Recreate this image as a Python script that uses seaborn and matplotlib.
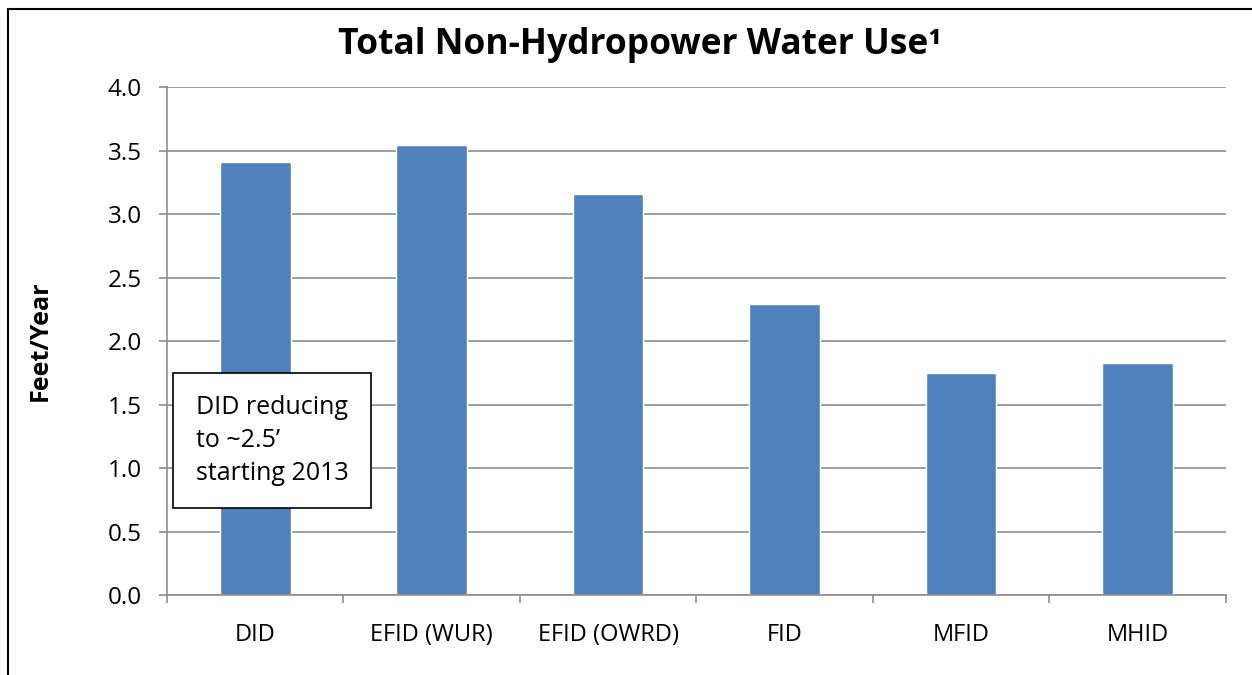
""" Total non-hydropower water use bar chart """

import matplotlib.pyplot as plt
from matplotlib.lines import Line2D
import numpy as np
import pandas as pd
import seaborn as sns

districts = ['DID', 'EFID (WUR)', 'EFID (OWRD)', 'FID', 'MFID', 'MHID']
feet_per_year = [3.41, 3.54, 3.16, 2.29, 1.745, 1.83]
y_ticks = [0.0, 0.5, 1.0, 1.5, 2.0, 2.5, 3.0, 3.5, 4.0]

BAR_COLOR = '#4F81BD'
GRID_COLOR = '#8C8C8C'

sns.set_theme(style='white', rc={'text.color': 'black',
                                 'xtick.color': 'black',
                                 'ytick.color': 'black',
                                 'axes.labelcolor': 'black'})
plt.rcParams['font.family'] = ['Open Sans', 'DejaVu Sans']

df = pd.DataFrame({'district': districts, 'value': feet_per_year})

fig = plt.figure(figsize=(12.52, 6.75), dpi=100)
ax = fig.add_axes([0.1334, 0.1185, 0.8456, 0.7525])

sns.barplot(data=df, x='district', y='value', color=BAR_COLOR,
            saturation=1, width=0.4, ax=ax)

ax.set_ylim(0, 4.0)
ax.set_xlim(-0.5, len(districts) - 0.5)
ax.set_yticks(y_ticks)
ax.set_yticklabels([f'{v:.1f}' for v in y_ticks])
ax.yaxis.grid(True, color=GRID_COLOR, linewidth=1.2)
ax.set_axisbelow(True)

for side in ['top', 'right']:
    ax.spines[side].set_visible(False)
for side in ['left', 'bottom']:
    ax.spines[side].set_color(GRID_COLOR)
    ax.spines[side].set_linewidth(1.2)

ax.tick_params(axis='y', length=6, width=1.2, color=GRID_COLOR,
               labelcolor='black', labelsize=17.5, pad=12, left=True)
ax.tick_params(axis='x', which='major', length=0, labelsize=17, pad=20,
               labelcolor='black')
ax.set_xticks(np.arange(-0.5, len(districts)), minor=True)
ax.tick_params(axis='x', which='minor', length=6, width=1.2,
               color=GRID_COLOR, bottom=True)

ax.set_xlabel('')
ax.set_ylabel('Feet/Year', fontsize=18, fontweight='bold')
ax.yaxis.set_label_coords(-0.108, 0.5)

# title is centred on the figure, not on the plot area
fig.text(0.511, 1 - 45 / 675, 'Total Non-Hydropower Water Use\u00b9',
         fontsize=25.5, fontweight='bold', ha='center', va='center',
         color='black')

ax.text(0.027, 0.304, 'DID reducing\nto ~2.5\u2019\nstarting 2013',
        transform=ax.transAxes, fontsize=18, va='center', ha='left',
        linespacing=1.4, color='black',
        bbox=dict(boxstyle='square,pad=0.9', facecolor='white',
                  edgecolor='black', linewidth=1.2))

# outer frame (left and top edges visible)
fig.add_artist(Line2D([8 / 1252, 8 / 1252], [0, 1 - 9 / 675],
                      transform=fig.transFigure, color='black', linewidth=1.5))
fig.add_artist(Line2D([8 / 1252, 1], [1 - 9 / 675, 1 - 9 / 675],
                      transform=fig.transFigure, color='black', linewidth=1.5))

fig.savefig('out.png', dpi=100)
